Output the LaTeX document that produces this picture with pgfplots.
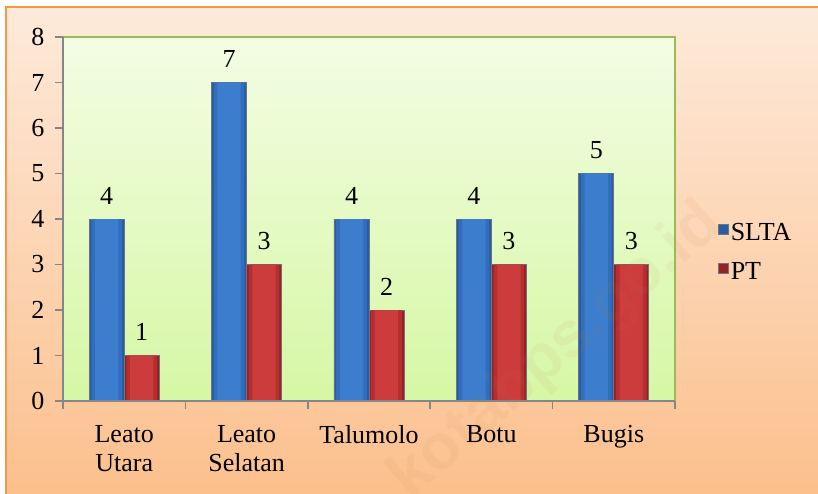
\documentclass[border=0pt]{standalone}
\usepackage{fontspec}
\setmainfont{Liberation Serif}
\newfontfamily\wmfont{Liberation Sans}
\usepackage{pgfplots}
\pgfplotsset{compat=1.18}
\usetikzlibrary{backgrounds}
\definecolor{bgTop}{RGB}{253,234,218}
\definecolor{bgBot}{RGB}{252,190,138}
\definecolor{orBorder}{RGB}{247,150,70}
\definecolor{plotTop}{RGB}{243,253,228}
\definecolor{plotBot}{RGB}{214,247,164}
\definecolor{plotGreen}{RGB}{155,187,89}
\definecolor{axGray}{RGB}{134,134,134}
\definecolor{b1}{RGB}{40,92,165}
\definecolor{b2}{RGB}{50,110,190}
\definecolor{b3}{RGB}{60,125,205}
\definecolor{r1}{RGB}{150,34,36}
\definecolor{r2}{RGB}{182,46,48}
\definecolor{r3}{RGB}{204,60,60}
\definecolor{barEdge}{RGB}{110,115,125}
\def\cf{\fontsize{26}{28.5}\selectfont}
\pgfplotsset{mylegend/.style={legend image code/.code={%
  \draw[##1,/tikz/.cd,yshift=0.32em] (0pt,-5pt) rectangle (10pt,5pt);}}}
\pgfplotstableread{
x slta pt
0 4 1
1 7 3
2 4 2
3 4 3
4 5 3
}\datatable
\begin{document}
\begin{tikzpicture}
\begin{axis}[
  name=ax, at={(0,0)}, anchor=south west, scale only axis,
  width=612pt, height=364pt,
  xmin=-0.5, xmax=4.5, ymin=0, ymax=8,
  ytick={0,1,...,8},
  xtick={-0.5,0.5,1.5,2.5,3.5,4.5},
  xticklabels={{Leato\\Utara},{Leato\\Selatan},Talumolo,Botu,Bugis,{}},
  xticklabel style={align=center, xshift=61.2pt, yshift=-13pt, font=\cf},
  yticklabel style={font=\cf, xshift=-7pt},
  /pgf/number format/assume math mode=true,
  tick pos=left,
  tick align=outside, major tick length=8pt,
  tick style={draw=axGray, line width=1.5pt},
  axis line style={draw=none},
  axis background/.style={top color=plotTop, bottom color=plotBot},
  ybar, bar width=0.286,
  legend style={at={(1.065,0.409)}, anchor=west, draw=none, fill=none,
    font=\cf, row sep=17pt, legend cell align=left},
  after end axis/.code={
    \draw[plotGreen, line width=2pt] (rel axis cs:0,1) -- (rel axis cs:1,1) -- (rel axis cs:1,0);
    \draw[axGray, line width=2pt] (rel axis cs:0,1) -- (rel axis cs:0,0) -- (rel axis cs:1,0);
  },
]
% SLTA
\addplot[bar shift=-0.143, draw=barEdge, line width=0.8pt, fill=b1, mylegend,
  nodes near coords, nodes near coords style={font=\cf, text=black, yshift=11pt}]
  table[x=x, y=slta] {\datatable};
\addlegendentry{SLTA}
\addplot[forget plot, bar shift=-0.143, bar width=0.25, draw=none, fill=b2] table[x=x, y=slta] {\datatable};
\addplot[forget plot, bar shift=-0.143, bar width=0.19, draw=none, fill=b3] table[x=x, y=slta] {\datatable};
% PT
\addplot[bar shift=0.143, draw=barEdge, line width=0.8pt, fill=r1, mylegend,
  nodes near coords, nodes near coords style={font=\cf, text=black, yshift=11pt}]
  table[x=x, y=pt] {\datatable};
\addlegendentry{PT}
\addplot[forget plot, bar shift=0.143, bar width=0.25, draw=none, fill=r2] table[x=x, y=pt] {\datatable};
\addplot[forget plot, bar shift=0.143, bar width=0.19, draw=none, fill=r3] table[x=x, y=pt] {\datatable};
\end{axis}
\begin{scope}[on background layer, x=1pt, y=1pt, shift={(ax.south west)}]
  \fill[white] (-63,-92) rectangle (755,401);
  \shade[top color=bgTop, bottom color=bgBot] (-57,-110) rectangle (780,394);
  \draw[orBorder, line width=2pt] (-57,-110) -- (-57,394) -- (780,394);
\end{scope}
\begin{scope}[x=1pt, y=1pt, shift={(ax.south west)}]
  \node[rotate=41, text=brown, opacity=0.07, font=\fontsize{64}{64}\wmfont\bfseries] at (494,49) {kotabps.go.id};
\end{scope}
\pgfresetboundingbox
\path[use as bounding box, x=1pt, y=1pt, shift={(ax.south west)}] (-63,-92) rectangle (755,401);
\end{tikzpicture}
\end{document}
